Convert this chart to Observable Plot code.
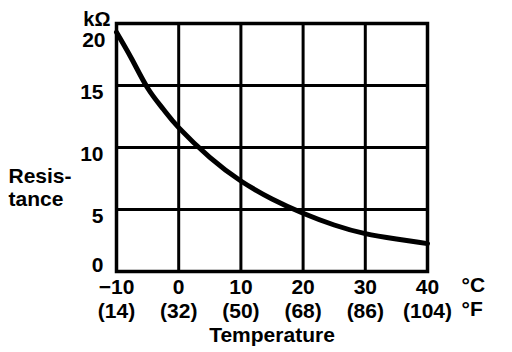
<!DOCTYPE html>
<html><head><meta charset="utf-8">
<script src="https://cdn.jsdelivr.net/npm/d3@7"></script>
<script src="https://cdn.jsdelivr.net/npm/@observablehq/plot@0.6"></script>
<style>body{margin:0;background:#fff} svg{display:block}</style>
</head><body><div id="chart"></div>
<script>
const temperatureC = [-10, -7.5, -5, -2.5, 0, 5, 10, 15, 20, 25, 30, 35, 40];
const resistanceK = [19.3, 17.1, 14.8, 13.1, 11.6, 9.2, 7.3, 5.85, 4.7, 3.75, 3.05, 2.62, 2.25];
const xTicks = [-10, 0, 10, 20, 30, 40];
const fahrenheitLabels = ["(14)", "(32)", "(50)", "(68)", "(86)", "(104)"];
const yTicks = [0, 5, 10, 15, 20];
const yMidTicks = [5, 10, 15];
const yTopTick = [20];
const yZeroTick = [0];

const data = temperatureC.map((t, i) => ({t, r: resistanceK[i]}));
const font = "'Liberation Sans', Arial, Helvetica, sans-serif";
const fmtC = d => (d < 0 ? "\u2212" + Math.abs(d) : String(d));
const ink = "#000";

const chart = Plot.plot({
  width: 512, height: 352,
  marginLeft: 116, marginRight: 85, marginTop: 23, marginBottom: 81,
  style: {fontFamily: font, fontSize: "21px", fontWeight: "bold", color: ink, background: "#fff", overflow: "visible"},
  x: {domain: [-10, 40]},
  y: {domain: [0, 20]},
  marks: [
    Plot.gridX(xTicks, {stroke: ink, strokeOpacity: 1, strokeWidth: 3}),
    Plot.gridY(yTicks, {stroke: ink, strokeOpacity: 1, strokeWidth: 3}),
    Plot.frame({stroke: ink, strokeWidth: 3.5}),
    Plot.line(data, {x: "t", y: "r", curve: "natural", stroke: ink, strokeWidth: 5}),
    Plot.axisX(xTicks, {
      tickSize: 0, tickPadding: 6, fontSize: 21, lineHeight: 1.12,
      tickFormat: d => fmtC(d) + "\n" + fahrenheitLabels[xTicks.indexOf(d)],
      label: "Temperature", labelAnchor: "center", labelArrow: "none", labelOffset: 70
    }),
    Plot.axisY(yMidTicks, {tickSize: 0, tickPadding: 13, dy: 7, fontSize: 21, label: null}),
    Plot.axisY(yTopTick, {tickSize: 0, tickPadding: 11, dy: 17, fontSize: 21, label: null}),
    Plot.axisY(yZeroTick, {tickSize: 0, tickPadding: 13, dy: -6, fontSize: 21, label: null}),
    Plot.text(["kΩ"], {text: d => d, frameAnchor: "top-left", textAnchor: "end", dx: -6, dy: -12, fontSize: 20, fontWeight: "bold"}),
    Plot.text(["Resis-\ntance"], {text: d => d, frameAnchor: "left", textAnchor: "start", dx: -108, dy: 40, fontSize: 21, fontWeight: "bold", lineHeight: 1.1}),
    Plot.text(["°C"], {text: d => d, frameAnchor: "bottom-right", textAnchor: "start", lineAnchor: "top", dx: 34, dy: 6, fontSize: 21, fontWeight: "bold"}),
    Plot.text(["°F"], {text: d => d, frameAnchor: "bottom-right", textAnchor: "start", lineAnchor: "top", dx: 34, dy: 29.5, fontSize: 21, fontWeight: "bold"})
  ]
});
document.getElementById("chart").append(chart);
</script>
</body></html>
